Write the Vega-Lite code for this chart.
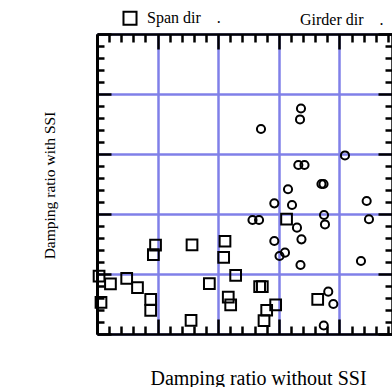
{
  "$schema": "https://vega.github.io/schema/vega-lite/v6.json",
  "autosize": {"type": "none"},
  "padding": {"left": 97, "top": 34, "right": 0, "bottom": 53},
  "width": 295,
  "height": 300,
  "config": {
    "view": {"stroke": null},
    "axis": {"labels": false, "grid": false, "domainColor": "black", "tickColor": "black", "titleFont": "Liberation Serif", "titleFontWeight": "normal", "titleFontSize": 16, "titleColor": "black"}
  },
  "datasets": {
    "pts": [
      {"dir": "Span dir", "x": 0.17, "y": 4.83},
      {"dir": "Span dir", "x": 1.11, "y": 4.17},
      {"dir": "Span dir", "x": 2.45, "y": 4.64},
      {"dir": "Span dir", "x": 3.34, "y": 3.86},
      {"dir": "Span dir", "x": 0.33, "y": 2.63},
      {"dir": "Span dir", "x": 4.43, "y": 2.88},
      {"dir": "Span dir", "x": 4.43, "y": 1.96},
      {"dir": "Span dir", "x": 4.83, "y": 7.40},
      {"dir": "Span dir", "x": 4.65, "y": 6.61},
      {"dir": "Span dir", "x": 7.84, "y": 7.42},
      {"dir": "Span dir", "x": 9.27, "y": 4.19},
      {"dir": "Span dir", "x": 7.76, "y": 1.13},
      {"dir": "Span dir", "x": 10.56, "y": 7.73},
      {"dir": "Span dir", "x": 10.45, "y": 6.39},
      {"dir": "Span dir", "x": 11.44, "y": 4.88},
      {"dir": "Span dir", "x": 10.83, "y": 3.08},
      {"dir": "Span dir", "x": 11.03, "y": 2.42},
      {"dir": "Span dir", "x": 13.42, "y": 3.94},
      {"dir": "Span dir", "x": 13.64, "y": 3.94},
      {"dir": "Span dir", "x": 14.74, "y": 2.42},
      {"dir": "Span dir", "x": 14.00, "y": 1.98},
      {"dir": "Span dir", "x": 13.78, "y": 1.11},
      {"dir": "Span dir", "x": 15.64, "y": 9.58},
      {"dir": "Span dir", "x": 18.21, "y": 2.89},
      {"dir": "Girder dir", "x": 13.53, "y": 17.08},
      {"dir": "Girder dir", "x": 16.83, "y": 18.79},
      {"dir": "Girder dir", "x": 16.75, "y": 17.88},
      {"dir": "Girder dir", "x": 20.46, "y": 14.88},
      {"dir": "Girder dir", "x": 16.61, "y": 14.08},
      {"dir": "Girder dir", "x": 17.12, "y": 14.08},
      {"dir": "Girder dir", "x": 15.76, "y": 12.06},
      {"dir": "Girder dir", "x": 18.52, "y": 12.5},
      {"dir": "Girder dir", "x": 18.69, "y": 12.5},
      {"dir": "Girder dir", "x": 16.09, "y": 10.75},
      {"dir": "Girder dir", "x": 14.63, "y": 10.89},
      {"dir": "Girder dir", "x": 22.25, "y": 11.08},
      {"dir": "Girder dir", "x": 22.44, "y": 9.56},
      {"dir": "Girder dir", "x": 12.83, "y": 9.5},
      {"dir": "Girder dir", "x": 13.37, "y": 9.5},
      {"dir": "Girder dir", "x": 18.73, "y": 9.92},
      {"dir": "Girder dir", "x": 18.81, "y": 9.13},
      {"dir": "Girder dir", "x": 16.50, "y": 8.86},
      {"dir": "Girder dir", "x": 14.63, "y": 7.75},
      {"dir": "Girder dir", "x": 16.87, "y": 7.89},
      {"dir": "Girder dir", "x": 15.51, "y": 6.78},
      {"dir": "Girder dir", "x": 15.06, "y": 6.5},
      {"dir": "Girder dir", "x": 16.79, "y": 5.75},
      {"dir": "Girder dir", "x": 21.78, "y": 6.08},
      {"dir": "Girder dir", "x": 19.08, "y": 3.53},
      {"dir": "Girder dir", "x": 19.50, "y": 2.5},
      {"dir": "Girder dir", "x": 18.71, "y": 0.71}
    ]
  },
  "resolve": {"scale": {"x": "independent", "y": "independent"}, "axis": {"x": "independent", "y": "independent"}},
  "layer": [
    {
      "data": {"name": "pts"},
      "transform": [{"filter": "datum.dir === 'Span dir'"}],
      "mark": {"type": "point", "filled": false, "color": "black", "strokeWidth": 2, "size": 115, "opacity": 1},
      "encoding": {
        "x": {"field": "x", "type": "quantitative", "scale": {"domain": [0, 24.34], "nice": false, "zero": false},
          "axis": {"orient": "bottom", "values": [0, 5, 10, 15, 20], "tickSize": -15, "tickWidth": 2.5, "grid": true, "gridColor": "#8080e8", "gridWidth": 2.5, "gridOpacity": 1, "domain": true, "domainWidth": 2.5, "title": "Damping ratio without SSI", "titleFontSize": 20, "titleAnchor": "middle", "titleAlign": "center", "titleX": 161, "titleY": 50, "titleBaseline": "alphabetic"}},
        "y": {"field": "y", "type": "quantitative", "scale": {"domain": [0, 25], "nice": false, "zero": false},
          "axis": {"orient": "left", "values": [0, 5, 10, 15, 20, 25], "tickSize": -14, "tickWidth": 2.5, "grid": true, "gridColor": "#8080e8", "gridWidth": 2.5, "gridOpacity": 1, "domain": true, "domainWidth": 3, "title": "Damping ratio with SSI", "titleFontSize": 15.5, "titleX": -48, "titleY": 151, "titleAngle": -90, "titleAlign": "center", "titleBaseline": "middle"}},
        "shape": {"field": "dir", "type": "nominal", "scale": {"domain": ["Span dir", "Girder dir"], "range": ["square", "M0,0"]},
          "legend": {"orient": "none", "legendX": 25, "legendY": -24, "direction": "horizontal", "title": null, "padding": 0, "symbolSize": 170, "symbolStrokeWidth": 2, "symbolStrokeColor": "black", "symbolFillColor": "transparent", "labelFont": "Liberation Serif", "labelFontSize": 16, "labelColor": "black", "labelOffset": 9, "columnPadding": 54, "labelExpr": "datum.label + '\u00a0\u00a0\u00a0\u00a0.'"}}
      }
    },
    {
      "data": {"name": "pts"},
      "transform": [{"filter": "datum.dir === 'Girder dir'"}],
      "mark": {"type": "point", "shape": "circle", "filled": false, "color": "black", "strokeWidth": 2, "size": 66, "opacity": 1},
      "encoding": {
        "x": {"field": "x", "type": "quantitative", "scale": {"domain": [0, 24.34], "nice": false, "zero": false},
          "axis": {"orient": "bottom", "values": [1, 2, 3, 4, 6, 7, 8, 9, 11, 12, 13, 14, 16, 17, 18, 19, 21, 22, 23, 24], "tickSize": -8, "tickWidth": 2.5, "domain": false, "title": null}},
        "y": {"field": "y", "type": "quantitative", "scale": {"domain": [0, 25], "nice": false, "zero": false},
          "axis": {"orient": "left", "values": [1, 2, 3, 4, 6, 7, 8, 9, 11, 12, 13, 14, 16, 17, 18, 19, 21, 22, 23, 24], "tickSize": -7, "tickWidth": 2.5, "domain": false, "title": null}}
      }
    },
    {
      "data": {"values": []},
      "mark": {"type": "point"},
      "encoding": {
        "x": {"field": "x", "type": "quantitative", "scale": {"domain": [0, 24.34], "nice": false, "zero": false},
          "axis": {"orient": "top", "values": [0, 5, 10, 15, 20], "tickSize": -15, "tickWidth": 2.5, "domain": true, "domainWidth": 2.5, "title": null}},
        "y": {"field": "y", "type": "quantitative", "scale": {"domain": [0, 25], "nice": false, "zero": false},
          "axis": {"orient": "right", "values": [0, 5, 10, 15, 20, 25], "tickSize": -14, "tickWidth": 2.5, "domain": true, "domainWidth": 2.5, "title": null}}
      }
    },
    {
      "data": {"values": []},
      "mark": {"type": "point"},
      "encoding": {
        "x": {"field": "x", "type": "quantitative", "scale": {"domain": [0, 24.34], "nice": false, "zero": false},
          "axis": {"orient": "top", "values": [1, 2, 3, 4, 6, 7, 8, 9, 11, 12, 13, 14, 16, 17, 18, 19, 21, 22, 23, 24], "tickSize": -8, "tickWidth": 2.5, "domain": false, "title": null}},
        "y": {"field": "y", "type": "quantitative", "scale": {"domain": [0, 25], "nice": false, "zero": false},
          "axis": {"orient": "right", "values": [1, 2, 3, 4, 6, 7, 8, 9, 11, 12, 13, 14, 16, 17, 18, 19, 21, 22, 23, 24], "tickSize": -7, "tickWidth": 2.5, "domain": false, "title": null}}
      }
    }
  ]
}
